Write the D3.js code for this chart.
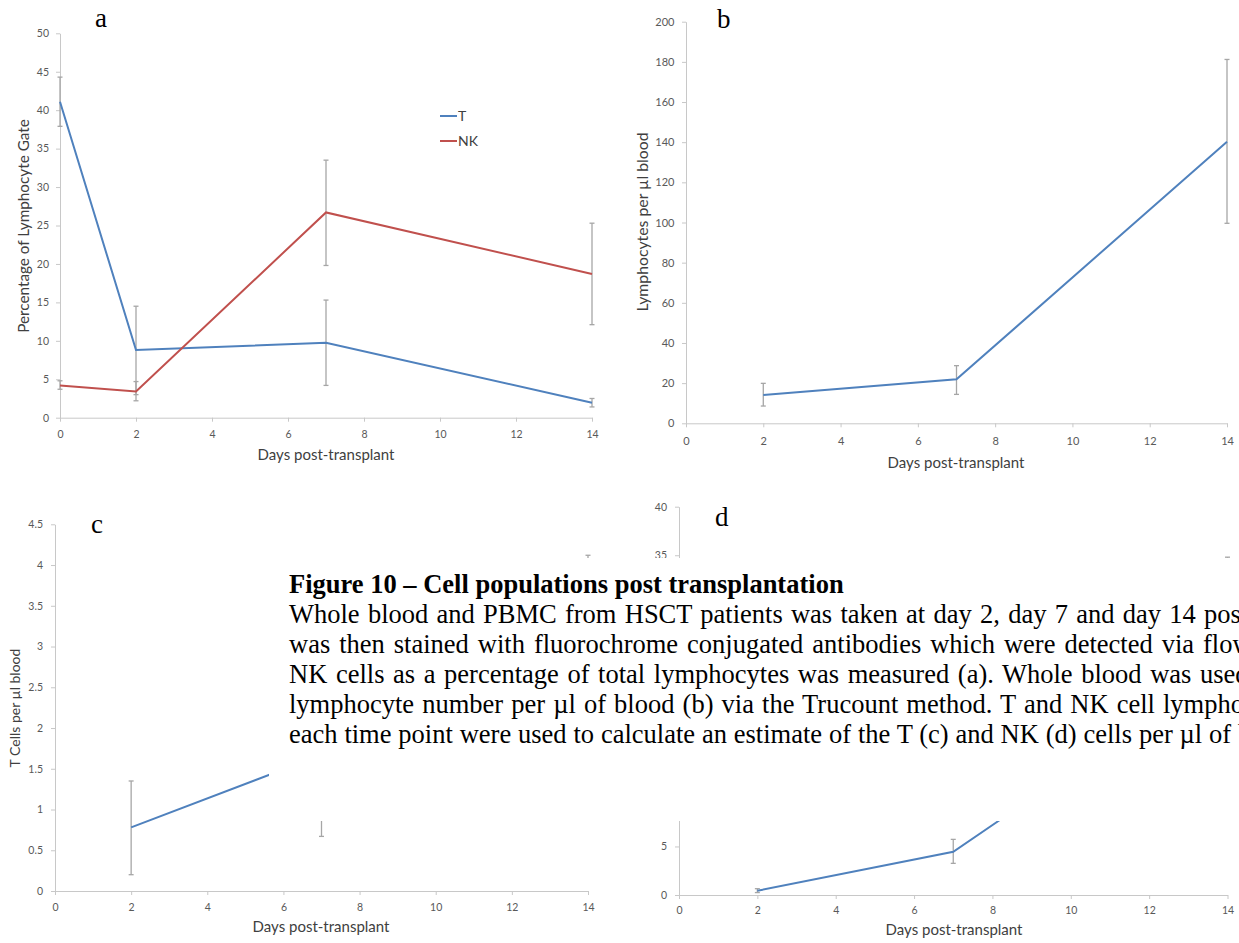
<!DOCTYPE html>
<html>
<head>
<meta charset="utf-8">
<script src="https://cdn.jsdelivr.net/npm/d3@7"></script>
<style>
  body { margin: 0; background: #fff; }
  svg { display: block; }
</style>
</head>
<body>
<div id="fig"></div>
<script>
// Data
const days = [0, 2, 7, 14];
const tPct = [41.1, 8.8, 9.75, 1.95];
const tPctLo = [37.9, 3.0, 4.2, 1.4];
const tPctHi = [44.3, 14.5, 15.3, 2.5];
const nkPct = [4.2, 3.4, 26.7, 18.7];
const nkPctLo = [3.7, 2.2, 19.8, 12.1];
const nkPctHi = [4.8, 4.7, 33.5, 25.3];

const countDays = [2, 7, 14];
const lymphCount = [14.1, 21.9, 140.2];
const lymphLo = [8.6, 14.4, 99.6];
const lymphHi = [19.9, 28.7, 181.2];

const tCells = [0.78, 1.67, 3.0];
const tCellsLo = [0.2, 0.67, 1.88];
const tCellsHi = [1.35, 2.67, 4.12];

const nkCells = [0.44, 4.46, 23.7];
const nkCellsLo = [0.25, 3.26, 12.7];
const nkCellsHi = [0.65, 5.73, 34.8];

const xTicks = [0, 2, 4, 6, 8, 10, 12, 14];
const legendLabels = ["T", "NK"];

const captionTitle = "Figure 10 \u2013 Cell populations post transplantation";
const captionLines = [
  "Whole blood and PBMC from HSCT patients was taken at day 2, day 7 and day 14 post",
  "was then stained with fluorochrome conjugated antibodies which were detected via flow",
  "NK cells as a percentage of total lymphocytes was measured (a). Whole blood was used",
  "lymphocyte number per \u00b5l of blood (b) via the Trucount method. T and NK cell lymphocyte",
  "each time point were used to calculate an estimate of the T (c) and NK (d) cells per \u00b5l of blood"
];

const BLUE = "#4f81bd", RED = "#c0504d", GREY = "#a6a6a6";
const SANS = "Lato, 'Open Sans', sans-serif";
const SERIF = "'Liberation Serif', 'Times New Roman', serif";

const svg = d3.select("#fig").append("svg")
  .attr("width", 1239)
  .attr("height", 943);

function drawPanel(cfg, series) {
  const x = d3.scaleLinear().domain([0, 14]).range([cfg.left, cfg.right]);
  const y = d3.scaleLinear().domain([0, cfg.yMax]).range([cfg.bottom, cfg.top]);
  const g = svg.append("g");

  // y axis
  const ya = g.append("g")
    .attr("transform", "translate(" + cfg.left + ",0)")
    .call(d3.axisLeft(y).tickValues(d3.range(0, cfg.yMax + 1e-9, cfg.yStep))
      .tickSizeInner(4).tickSizeOuter(0).tickPadding(cfg.yPad)
      .tickFormat(d3.format(cfg.fmt)));
  // x axis
  const xa = g.append("g")
    .attr("transform", "translate(0," + cfg.bottom + ")")
    .call(d3.axisBottom(x).tickValues(xTicks)
      .tickSizeInner(4).tickSizeOuter(0).tickPadding(cfg.xPad));
  [ya, xa].forEach(a => {
    a.select(".domain").attr("stroke", "#c8c8c8");
    a.selectAll(".tick line").attr("stroke", "#c8c8c8");
    a.selectAll("text").attr("fill", "#595959")
      .style("font-family", SANS).style("font-size", cfg.tickSize + "px");
  });

  series.forEach(s => {
    const pts = s.x.map((d, i) => ({x: d, y: s.y[i], lo: s.lo[i], hi: s.hi[i]}));
    // error bars
    const eb = g.append("g").attr("stroke", GREY).attr("stroke-width", 1.3);
    pts.forEach(p => {
      eb.append("line").attr("x1", x(p.x)).attr("x2", x(p.x)).attr("y1", y(p.lo)).attr("y2", y(p.hi));
      eb.append("line").attr("x1", x(p.x) - 2.5).attr("x2", x(p.x) + 2.5).attr("y1", y(p.lo)).attr("y2", y(p.lo));
      eb.append("line").attr("x1", x(p.x) - 2.5).attr("x2", x(p.x) + 2.5).attr("y1", y(p.hi)).attr("y2", y(p.hi));
    });
    g.append("path")
      .datum(pts)
      .attr("fill", "none")
      .attr("stroke", s.color)
      .attr("stroke-width", 2)
      .attr("d", d3.line().x(d => x(d.x)).y(d => y(d.y)));
  });

  // axis titles
  g.append("text")
    .attr("x", cfg.xTitle[0]).attr("y", cfg.xTitle[1])
    .attr("text-anchor", "middle")
    .style("font-family", SANS).style("font-size", "15px").attr("fill", "#404040")
    .text("Days post-transplant");
  g.append("text")
    .attr("transform", "translate(" + cfg.yTitle[0] + "," + cfg.yTitle[1] + ") rotate(-90)")
    .attr("text-anchor", "middle").attr("dy", "0.35em")
    .style("font-family", SANS).style("font-size", cfg.yTitleSize + "px").attr("fill", "#404040")
    .text(cfg.yLabel);

  // panel letter
  svg.append("text")
    .attr("x", cfg.letter[0]).attr("y", cfg.letter[1])
    .style("font-family", SERIF).style("font-size", "27px")
    .text(cfg.name);
  return {g, x, y};
}

// Panel a
drawPanel({
  name: "a", left: 60, right: 592, top: 33.3, bottom: 417.7, yMax: 50, yStep: 5, fmt: "d",
  yPad: 7, xPad: 9, tickSize: 10.5, xTitle: [326, 460], yTitle: [23.5, 226], yTitleSize: 15.3,
  yLabel: "Percentage of Lymphocyte Gate", letter: [95, 27]
}, [
  {x: days, y: tPct, lo: tPctLo, hi: tPctHi, color: BLUE},
  {x: days, y: nkPct, lo: nkPctLo, hi: nkPctHi, color: RED}
]);

// legend for a
const leg = svg.append("g");
[BLUE, RED].forEach((c, i) => {
  leg.append("line").attr("x1", 440).attr("x2", 457)
    .attr("y1", 116 + i * 25).attr("y2", 116 + i * 25)
    .attr("stroke", c).attr("stroke-width", 2);
  leg.append("text").attr("x", 458).attr("y", 121 + i * 25)
    .style("font-family", SANS).style("font-size", "14px").attr("fill", "#404040")
    .text(legendLabels[i]);
});

// Panel b
drawPanel({
  name: "b", left: 686, right: 1227, top: 21.7, bottom: 423.3, yMax: 200, yStep: 20, fmt: "d",
  yPad: 7.5, xPad: 10, tickSize: 11, xTitle: [956, 468], yTitle: [642.5, 222], yTitleSize: 15.8,
  yLabel: "Lymphocytes per \u00b5l blood", letter: [717, 28]
}, [
  {x: countDays, y: lymphCount, lo: lymphLo, hi: lymphHi, color: BLUE}
]);

// Panel c
drawPanel({
  name: "c", left: 55, right: 588, top: 524.3, bottom: 891, yMax: 4.5, yStep: 0.5, fmt: "",
  yPad: 8, xPad: 8.5, tickSize: 10.5, xTitle: [321, 932], yTitle: [15, 708], yTitleSize: 14,
  yLabel: "T Cells per \u00b5l blood", letter: [91, 533]
}, [
  {x: countDays, y: tCells, lo: tCellsLo, hi: tCellsHi, color: BLUE}
]);

// Panel d
drawPanel({
  name: "d", left: 679, right: 1227.5, top: 506.7, bottom: 895, yMax: 40, yStep: 5, fmt: "d",
  yPad: 8, xPad: 8, tickSize: 10.5, xTitle: [954, 935], yTitle: [640, 700], yTitleSize: 14,
  yLabel: "NK Cells per \u00b5l blood", letter: [715, 526]
}, [
  {x: countDays, y: nkCells, lo: nkCellsLo, hi: nkCellsHi, color: BLUE}
]);

// Caption block laid over the lower panels
const cap = svg.append("g");
cap.append("rect").attr("x", 269).attr("y", 558).attr("width", 975).attr("height", 263).attr("fill", "#fff");

const capX = 289, capSize = 26.5;
cap.append("text")
  .attr("x", capX).attr("y", 593)
  .style("font-family", SERIF).style("font-size", capSize + "px").style("font-weight", "bold")
  .text(captionTitle);

// x position where the last word of each line begins
const lastWordX = [1204, 1203, 1200, 1163, 1238];

function measure(str) {
  const t = svg.append("text").style("font-family", SERIF).style("font-size", capSize + "px")
    .text(str);
  const w = t.node().getComputedTextLength();
  t.remove();
  return w;
}

captionLines.forEach((line, i) => {
  const words = line.split(" ");
  const head = words.slice(0, -1).join(" ");
  const w = measure(head + " x") - measure("x");
  const ws = (lastWordX[i] - capX - w) / (words.length - 1);
  cap.append("text")
    .attr("x", capX).attr("y", 623 + i * 30)
    .style("font-family", SERIF).style("font-size", capSize + "px")
    .style("word-spacing", ws + "px")
    .text(line);
});
</script>
</body>
</html>
